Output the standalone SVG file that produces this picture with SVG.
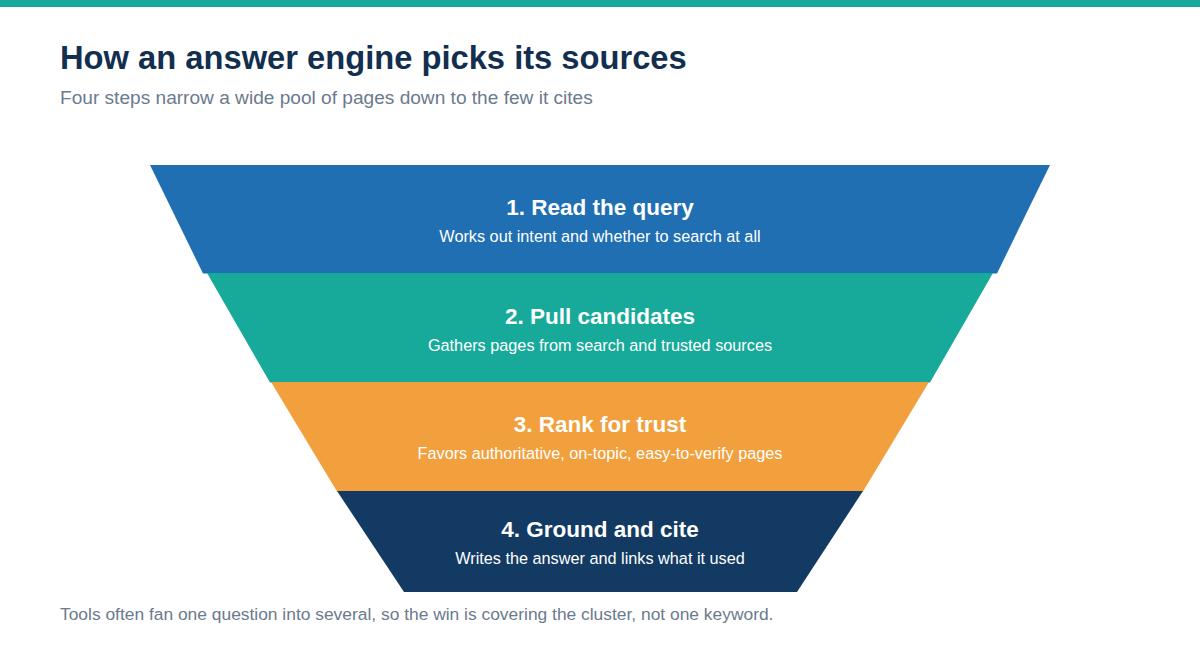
<svg xmlns="http://www.w3.org/2000/svg" width="1200" height="645" viewBox="0 0 1200 645">
<style>
.t{font-family:"Liberation Sans",Arial,sans-serif;}
.title{font-size:32.7px;font-weight:bold;fill:#132f4f;}
.sub{font-size:19.1px;fill:#6b7a8d;}
.bt{font-size:22.5px;font-weight:bold;fill:#ffffff;text-anchor:middle;}
.bs{font-size:16.25px;fill:#ffffff;text-anchor:middle;}
.foot{font-size:17.4px;fill:#6b7a8d;}
</style>
<rect x="0" y="0" width="1200" height="645" fill="#ffffff"/>
<rect x="0" y="0" width="1200" height="7" fill="#17a99a"/>
<text class="t title" x="60" y="69">How an answer engine picks its sources</text>
<text class="t sub" x="60" y="104">Four steps narrow a wide pool of pages down to the few it cites</text>
<g id="step1">
<polygon points="150,165 1050,165 997,273.5 203,273.5" fill="#1f6fb2"/>
<text class="t bt" x="600" y="215">1. Read the query</text>
<text class="t bs" x="600" y="242">Works out intent and whether to search at all</text>
</g>
<g id="step2">
<polygon points="207,273 993,273 930,382.5 270,382.5" fill="#17a99a"/>
<text class="t bt" x="600" y="324">2. Pull candidates</text>
<text class="t bs" x="600" y="351">Gathers pages from search and trusted sources</text>
</g>
<g id="step3">
<polygon points="271,382 929,382 863,491.5 337,491.5" fill="#f2a03d"/>
<text class="t bt" x="600" y="432">3. Rank for trust</text>
<text class="t bs" x="600" y="459">Favors authoritative, on-topic, easy-to-verify pages</text>
</g>
<g id="step4">
<polygon points="337,491 863,491 797,592 404,592" fill="#133a63"/>
<text class="t bt" x="600" y="537">4. Ground and cite</text>
<text class="t bs" x="600" y="564">Writes the answer and links what it used</text>
</g>
<g id="connectors"></g>
<text class="t foot" x="60" y="620">Tools often fan one question into several, so the win is covering the cluster, not one keyword.</text>
</svg>
